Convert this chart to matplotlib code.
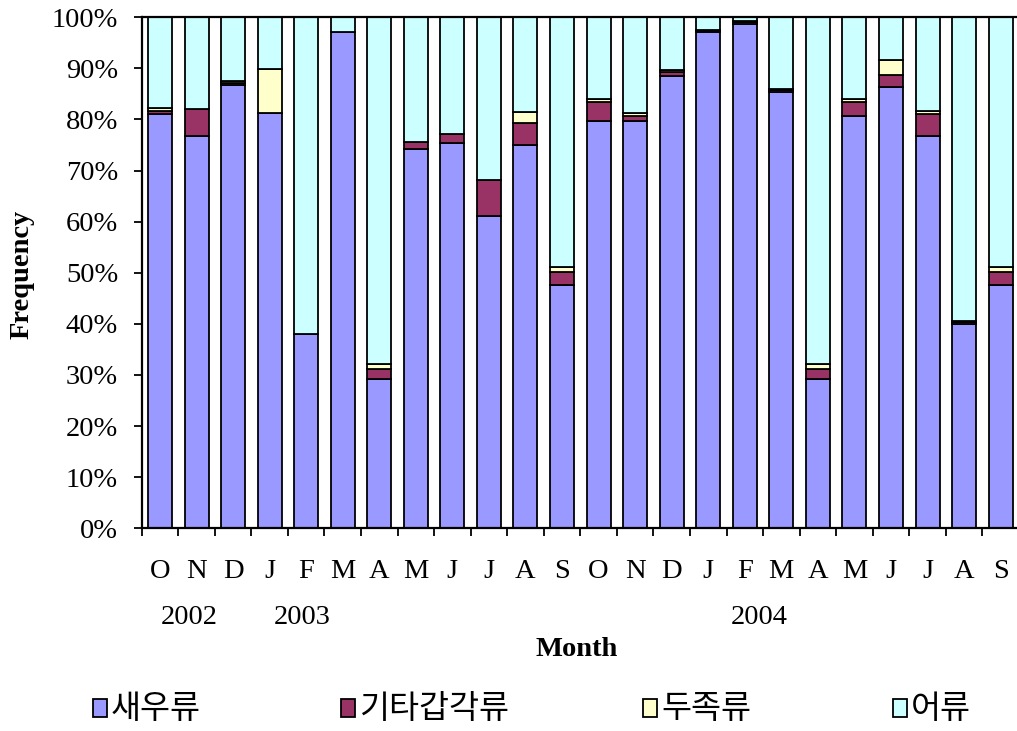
import matplotlib
matplotlib.use("Agg")
import matplotlib.pyplot as plt
from matplotlib.patches import Rectangle
from matplotlib.ticker import FixedLocator, FuncFormatter

# Monthly diet composition (% frequency), Oct 2002 - Sep 2004
months = ["O", "N", "D", "J", "F", "M", "A", "M", "J", "J", "A", "S",
          "O", "N", "D", "J", "F", "M", "A", "M", "J", "J", "A", "S"]
years = ["2002", "2003", "2004"]
year_pos = [0.8, 3.9, 16.4]

series_names = ["새우류", "기타갑각류", "두족류", "어류"]
shrimp = [81.1, 76.7, 86.7, 81.2, 38.0, 97.1, 29.2, 74.2, 75.4, 61.1, 75.0, 47.6,
          79.8, 79.8, 88.6, 97.1, 98.7, 85.4, 29.2, 80.6, 86.3, 76.7, 39.9, 47.6]
other_crust = [0.6, 5.4, 0.5, 0.0, 0.0, 0.0, 1.9, 1.3, 1.8, 7.1, 4.4, 2.6,
               3.6, 0.8, 0.6, 0.3, 0.3, 0.4, 1.9, 2.8, 2.4, 4.4, 0.4, 2.6]
cephalopod = [0.5, 0.0, 0.3, 8.7, 0.0, 0.0, 1.0, 0.0, 0.0, 0.0, 2.0, 1.0,
              0.6, 0.6, 0.4, 0.2, 0.2, 0.2, 1.0, 0.6, 2.9, 0.5, 0.3, 1.0]
fish = [17.8, 17.9, 12.5, 10.1, 62.0, 2.9, 67.9, 24.5, 22.8, 31.8, 18.6, 48.8,
        16.0, 18.8, 10.4, 2.4, 0.8, 14.0, 67.9, 16.0, 8.4, 18.4, 59.4, 48.8]

colors = ["#9999FF", "#993366", "#FFFFCC", "#CCFFFF"]

serif = ["Liberation Serif", "DejaVu Serif"]
korean = ["Noto Sans CJK KR", "DejaVu Sans"]
plt.rcParams["font.family"] = serif

W, H = 1017, 731
FS = 20.5
fig = plt.figure(figsize=(W / 100, H / 100), dpi=100)
ax = fig.add_axes([141.7 / W, 1 - 528.3 / H, (1018.9 - 141.7) / W, (528.3 - 17.3) / H])

x = list(range(len(months)))
bottom = [0.0] * len(months)
for name, vals, c in zip(series_names, [shrimp, other_crust, cephalopod, fish], colors):
    ax.bar(x, vals, width=0.657, bottom=bottom, color=c, edgecolor="black",
           linewidth=1.3, label=name, zorder=2)
    bottom = [b + v for b, v in zip(bottom, vals)]

ax.set_xlim(-0.5, len(months) - 0.5)
ax.set_ylim(0, 100)

# y axis: percent ticks every 10%
ax.set_yticks(range(0, 101, 10))
ax.yaxis.set_major_formatter(FuncFormatter(lambda v, p: f"{int(v)}%"))
ax.tick_params(axis="y", direction="out", length=6, width=1.3, pad=11, labelsize=FS)

# x axis: tick marks between bars, month labels centred under bars
ax.xaxis.set_major_locator(FixedLocator([i - 0.5 for i in range(len(months) + 1)]))
ax.xaxis.set_major_formatter(FuncFormatter(lambda v, p: ""))
ax.set_xticks(x, months, minor=True)
ax.tick_params(axis="x", which="major", direction="out", length=6, width=1.3)
ax.tick_params(axis="x", which="minor", length=0, pad=22, labelsize=FS)

for s in ["left", "bottom", "top"]:
    ax.spines[s].set_linewidth(1.6)
ax.spines["right"].set_visible(False)

# year labels below the month row
for yr, xp in zip(years, year_pos):
    ax.text(xp, -17.4, yr, ha="center", va="center", fontsize=FS, clip_on=False)

fig.text(577 / W, 1 - 649 / H, "Month", ha="center", va="center",
         fontsize=FS, fontweight="bold")
fig.text(22 / W, 1 - 274 / H, "Frequency", ha="center", va="center",
         rotation=90, fontsize=FS, fontweight="bold")

# legend row: swatch plus Korean label for each series
swatch_x = [93, 341, 643, 893]
for sx, c, name in zip(swatch_x, colors, series_names):
    fig.patches.append(Rectangle((sx / W, 1 - 717 / H), 14 / W, 18 / H,
                                 transform=fig.transFigure, facecolor=c,
                                 edgecolor="black", linewidth=1.3))
    fig.text((sx + 18) / W, 1 - 709 / H, name, ha="left", va="center",
             fontsize=23.5, family=korean)

fig.savefig("out.png", dpi=100)
